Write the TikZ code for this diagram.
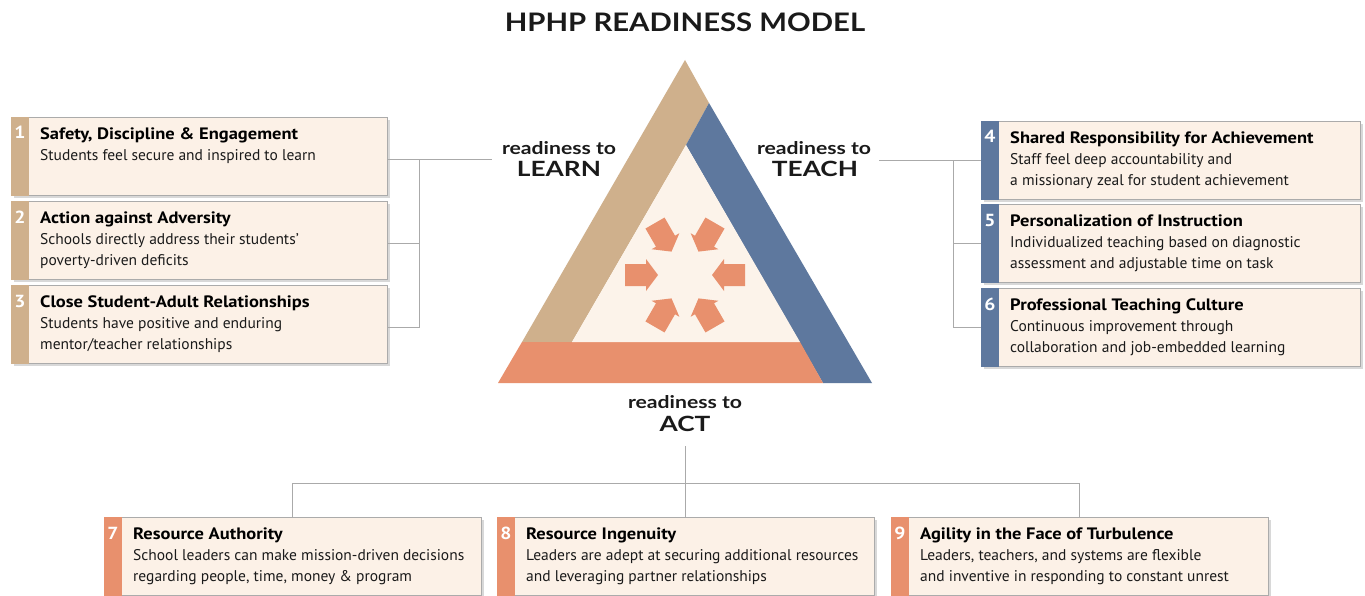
\documentclass[tikz,border=0pt]{standalone}
\usepackage{fontspec}
\setmainfont{PT Sans}
\newfontfamily\ttlfont[FakeStretch=1.12]{PT Sans}
\newfontfamily\hfont{Lato}
\newfontfamily\hfontw[FakeStretch=1.15]{Lato}
\newfontfamily\rfont[FakeStretch=1.21]{Lato}
\newfontfamily\bfontw[FakeStretch=1.25]{Lato}
\usetikzlibrary{shadows}
\definecolor{tanc}{HTML}{CFB08C}
\definecolor{bluec}{HTML}{5E789E}
\definecolor{salmc}{HTML}{E8906D}
\definecolor{creamc}{HTML}{FCF3EA}
\definecolor{cardfill}{HTML}{FCF1E7}
\definecolor{cardline}{HTML}{ABABAB}
\definecolor{connc}{HTML}{AAAAAA}
\definecolor{inkc}{HTML}{1A1A1A}
\newcommand\mkcard[8]{%
  \node[card, minimum width=#8] (#1) at (#2) {};
  \fill[#3] (#1.north west) rectangle ([xshift=18pt]#1.south west);
  \node[numst, anchor=base] at ([xshift=9pt,yshift=-22pt]#1.north west) {#4};
  \node[ttlst, anchor=base west] at ([xshift=29pt,yshift=-22.5pt]#1.north west) {#5};
  \node[bodyst, anchor=base west] at ([xshift=29pt,yshift=-43.5pt]#1.north west) {#6};
  \node[bodyst, anchor=base west] at ([xshift=29pt,yshift=-64.5pt]#1.north west) {#7};
}
\newcommand\blockarrow[1]{%
  \begin{scope}[shift={(685,275)}, rotate=#1]
    \fill[salmc] (-60,-11) -- (-39,-11) -- (-39,-16) -- (-27,0) -- (-39,16) -- (-39,11) -- (-60,11) -- cycle;
  \end{scope}
}
\begin{document}
\begin{tikzpicture}[x=1pt,y=-1pt,
  card/.style={draw=cardline, fill=cardfill, line width=0.8pt, anchor=north west,
    minimum height=78pt, inner sep=0pt,
    drop shadow={shadow xshift=2.5pt, shadow yshift=-2.5pt, opacity=0.25, fill=black!60}},
  numst/.style={inner sep=0pt, text=white, font=\ttlfont\fontsize{17.5}{17}\selectfont\bfseries},
  ttlst/.style={inner sep=0pt, text=black, font=\ttlfont\fontsize{16.5}{21}\selectfont\bfseries},
  bodyst/.style={inner sep=0pt, text=inkc, font=\fontsize{15.5}{21}\selectfont},
  rlab/.style={inner sep=0pt, text=inkc, font=\rfont\fontsize{17.5}{18}\selectfont\bfseries},
  blab/.style={inner sep=0pt, text=inkc, font=\bfontw\fontsize{21}{21}\selectfont\bfseries},
  conn/.style={draw=connc, line width=0.9pt}]
\useasboundingbox (0,0) rectangle (1365,596);
\fill[white] (0,0) rectangle (1365,596);

% title
\node[inner sep=0pt, anchor=base, text=inkc, font=\hfontw\fontsize{25.5}{26}\selectfont\bfseries] (title) at (685,32) {HPHP READINESS MODEL};

% triangle
\fill[tanc] (685,60) -- (709,103) -- (686,145) -- (572,342) -- (522,342) -- cycle;
\fill[bluec] (709,103) -- (872,383) -- (823,383) -- (686,145) -- cycle;
\fill[salmc] (522,342) -- (800,342) -- (823,383) -- (498,383) -- cycle;
\fill[creamc] (686,145) -- (800,342) -- (572,342) -- cycle;
\foreach \a in {0,60,120,180,240,300} {\blockarrow{\a}}

% triangle labels
\node[rlab, anchor=base] (lrn) at (559,155) {readiness to};
\node[blab, anchor=base] (lrnb) at (559,177) {LEARN};
\node[rlab, anchor=base] (tch) at (814,155) {readiness to};
\node[blab, anchor=base] (tchb) at (815,177) {TEACH};
\node[rlab, anchor=base] (act) at (685,408) {readiness to};
\node[blab, anchor=base] (actb) at (685,431) {ACT};

% cards
\mkcard{b1}{11,117}{tanc}{1}{Safety, Discipline \& Engagement}{Students feel secure and inspired to learn}{}{376pt}
\mkcard{b2}{11,201}{tanc}{2}{Action against Adversity}{Schools directly address their students'}{poverty-driven deficits}{376pt}
\mkcard{b3}{11,285}{tanc}{3}{Close Student-Adult Relationships}{Students have positive and enduring}{mentor/teacher relationships}{376pt}
\mkcard{b4}{981,121}{bluec}{4}{Shared Responsibility for Achievement}{Staff feel deep accountability and}{a missionary zeal for student achievement}{379pt}
\mkcard{b5}{981,204}{bluec}{5}{Personalization of Instruction}{Individualized teaching based on diagnostic}{assessment and adjustable time on task}{379pt}
\mkcard{b6}{981,288}{bluec}{6}{Professional Teaching Culture}{Continuous improvement through}{collaboration and job-embedded learning}{379pt}
\mkcard{b7}{104,517}{salmc}{7}{Resource Authority}{School leaders can make mission-driven decisions}{regarding people, time, money \& program}{377pt}
\mkcard{b8}{497,517}{salmc}{8}{Resource Ingenuity}{Leaders are adept at securing additional resources}{and leveraging partner relationships}{377pt}
\mkcard{b9}{891,517}{salmc}{9}{Agility in the Face of Turbulence}{Leaders, teachers, and systems are flexible}{and inventive in responding to constant unrest}{377pt}

% left connectors
\coordinate (l1) at ([yshift=-3pt]b1.east);
\coordinate (l2) at ([yshift=-3pt]b2.east);
\coordinate (l3) at ([yshift=-3pt]b3.east);
\coordinate (lb) at (419,0);
\draw[conn] (l1) -- ([xshift=-10pt]lrn.west |- l1);
\draw[conn] (l1 -| lb) -- (l3 -| lb) -- (l3);
\draw[conn] (l2) -- (l2 -| lb);

% right connectors
\coordinate (r1) at (b4.west);
\coordinate (r2) at (b5.west);
\coordinate (r3) at (b6.west);
\coordinate (rb) at (953,0);
\draw[conn] (r1) -- ([xshift=8pt]tch.east |- r1);
\draw[conn] (r1 -| rb) -- (r3 -| rb) -- (r3);
\draw[conn] (r2) -- (r2 -| rb);

% bottom connectors
\coordinate (bb) at (0,483);
\draw[conn] ([yshift=-15pt]actb.south) -- (actb.south |- bb);
\draw[conn] (b7.north |- bb) -- (b9.north |- bb);
\draw[conn] (b7.north) -- (b7.north |- bb);
\draw[conn] (b9.north) -- (b9.north |- bb);
\draw[conn] (b8.north) -- (b8.north |- bb);
\end{tikzpicture}
\end{document}
